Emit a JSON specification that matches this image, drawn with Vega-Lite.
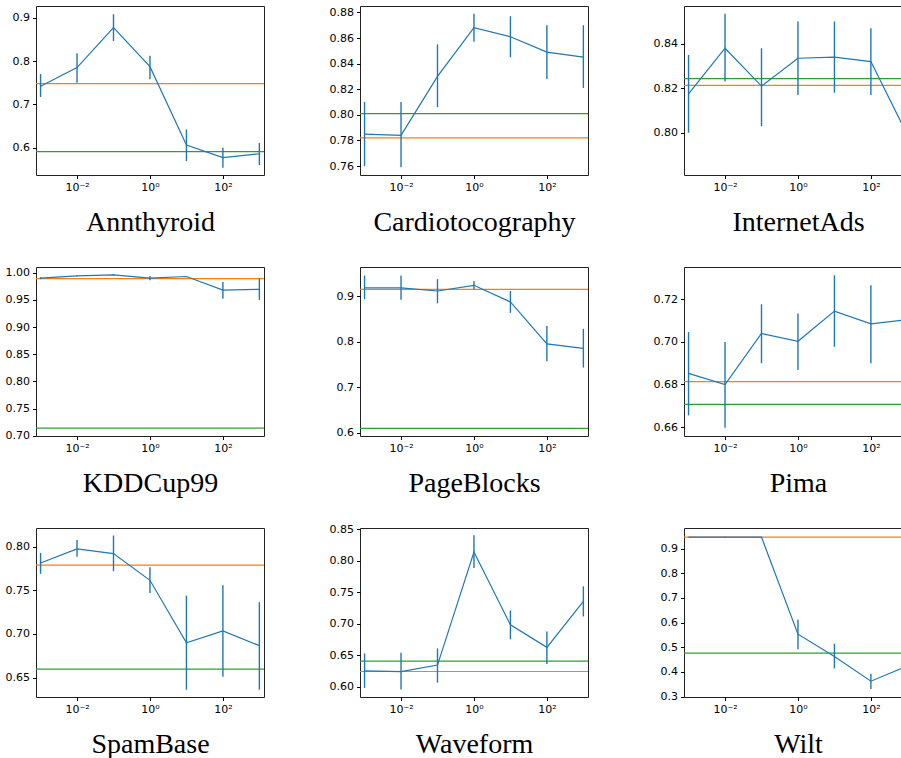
{
"$schema": "https://vega.github.io/schema/vega-lite/v6.json",
"padding": {"left": 4, "top": 5, "right": 0, "bottom": 0},
"bounds": "flush",
"columns": 3,
"spacing": {"row": 92, "column": 96},
"datasets": {
"pts": [
{"d":"Annthyroid","x":0.001,"y":0.742,"lo":0.717,"hi":0.770},
{"d":"Annthyroid","x":0.01,"y":0.785,"lo":0.750,"hi":0.818},
{"d":"Annthyroid","x":0.1,"y":0.877,"lo":0.846,"hi":0.908},
{"d":"Annthyroid","x":1,"y":0.787,"lo":0.758,"hi":0.812},
{"d":"Annthyroid","x":10,"y":0.606,"lo":0.569,"hi":0.642},
{"d":"Annthyroid","x":100,"y":0.577,"lo":0.554,"hi":0.600},
{"d":"Annthyroid","x":1000,"y":0.586,"lo":0.560,"hi":0.611},
{"d":"Cardiotocography","x":0.001,"y":0.785,"lo":0.760,"hi":0.810},
{"d":"Cardiotocography","x":0.01,"y":0.784,"lo":0.759,"hi":0.810},
{"d":"Cardiotocography","x":0.1,"y":0.830,"lo":0.806,"hi":0.855},
{"d":"Cardiotocography","x":1,"y":0.868,"lo":0.857,"hi":0.879},
{"d":"Cardiotocography","x":10,"y":0.861,"lo":0.845,"hi":0.877},
{"d":"Cardiotocography","x":100,"y":0.849,"lo":0.828,"hi":0.870},
{"d":"Cardiotocography","x":1000,"y":0.845,"lo":0.821,"hi":0.870},
{"d":"InternetAds","x":0.001,"y":0.8175,"lo":0.800,"hi":0.835},
{"d":"InternetAds","x":0.01,"y":0.838,"lo":0.823,"hi":0.8535},
{"d":"InternetAds","x":0.1,"y":0.821,"lo":0.803,"hi":0.838},
{"d":"InternetAds","x":1,"y":0.8335,"lo":0.817,"hi":0.850},
{"d":"InternetAds","x":10,"y":0.834,"lo":0.818,"hi":0.850},
{"d":"InternetAds","x":100,"y":0.832,"lo":0.817,"hi":0.847},
{"d":"InternetAds","x":1000,"y":0.799,"lo":0.784,"hi":0.814},
{"d":"KDDCup99","x":0.001,"y":0.990,"lo":0.988,"hi":0.992},
{"d":"KDDCup99","x":0.01,"y":0.994,"lo":0.993,"hi":0.995},
{"d":"KDDCup99","x":0.1,"y":0.996,"lo":0.995,"hi":0.997},
{"d":"KDDCup99","x":1,"y":0.990,"lo":0.986,"hi":0.994},
{"d":"KDDCup99","x":10,"y":0.993,"lo":0.992,"hi":0.994},
{"d":"KDDCup99","x":100,"y":0.968,"lo":0.952,"hi":0.983},
{"d":"KDDCup99","x":1000,"y":0.9695,"lo":0.950,"hi":0.989},
{"d":"PageBlocks","x":0.001,"y":0.918,"lo":0.893,"hi":0.945},
{"d":"PageBlocks","x":0.01,"y":0.918,"lo":0.892,"hi":0.945},
{"d":"PageBlocks","x":0.1,"y":0.911,"lo":0.884,"hi":0.937},
{"d":"PageBlocks","x":1,"y":0.9235,"lo":0.915,"hi":0.933},
{"d":"PageBlocks","x":10,"y":0.887,"lo":0.863,"hi":0.911},
{"d":"PageBlocks","x":100,"y":0.795,"lo":0.757,"hi":0.834},
{"d":"PageBlocks","x":1000,"y":0.785,"lo":0.743,"hi":0.828},
{"d":"Pima","x":0.001,"y":0.6852,"lo":0.6655,"hi":0.7046},
{"d":"Pima","x":0.01,"y":0.680,"lo":0.6597,"hi":0.700},
{"d":"Pima","x":0.1,"y":0.704,"lo":0.690,"hi":0.7177},
{"d":"Pima","x":1,"y":0.7003,"lo":0.6868,"hi":0.7134},
{"d":"Pima","x":10,"y":0.7145,"lo":0.6977,"hi":0.7313},
{"d":"Pima","x":100,"y":0.7085,"lo":0.690,"hi":0.7266},
{"d":"Pima","x":1000,"y":0.7105,"lo":0.692,"hi":0.729},
{"d":"SpamBase","x":0.001,"y":0.7815,"lo":0.769,"hi":0.793},
{"d":"SpamBase","x":0.01,"y":0.7977,"lo":0.7885,"hi":0.8077},
{"d":"SpamBase","x":0.1,"y":0.7923,"lo":0.772,"hi":0.813},
{"d":"SpamBase","x":1,"y":0.7616,"lo":0.747,"hi":0.7766},
{"d":"SpamBase","x":10,"y":0.690,"lo":0.636,"hi":0.744},
{"d":"SpamBase","x":100,"y":0.7035,"lo":0.6508,"hi":0.7558},
{"d":"SpamBase","x":1000,"y":0.6866,"lo":0.636,"hi":0.7365},
{"d":"Waveform","x":0.001,"y":0.6255,"lo":0.5984,"hi":0.653},
{"d":"Waveform","x":0.01,"y":0.6244,"lo":0.5957,"hi":0.6542},
{"d":"Waveform","x":0.1,"y":0.6346,"lo":0.6069,"hi":0.6611},
{"d":"Waveform","x":1,"y":0.8138,"lo":0.7887,"hi":0.8404},
{"d":"Waveform","x":10,"y":0.6984,"lo":0.6755,"hi":0.7213},
{"d":"Waveform","x":100,"y":0.6627,"lo":0.6362,"hi":0.6877},
{"d":"Waveform","x":1000,"y":0.7356,"lo":0.7117,"hi":0.7595},
{"d":"Wilt","x":0.001,"y":0.947,"lo":0.946,"hi":0.948},
{"d":"Wilt","x":0.01,"y":0.947,"lo":0.946,"hi":0.948},
{"d":"Wilt","x":0.1,"y":0.947,"lo":0.946,"hi":0.948},
{"d":"Wilt","x":1,"y":0.553,"lo":0.4922,"hi":0.6116},
{"d":"Wilt","x":10,"y":0.4626,"lo":0.414,"hi":0.514},
{"d":"Wilt","x":100,"y":0.3622,"lo":0.330,"hi":0.392},
{"d":"Wilt","x":1000,"y":0.424,"lo":0.39,"hi":0.458}
],
"base": [
{"d":"Annthyroid","orange":0.748,"green":0.591},
{"d":"Cardiotocography","orange":0.782,"green":0.801},
{"d":"InternetAds","orange":0.8213,"green":0.8243},
{"d":"KDDCup99","orange":0.989,"green":0.714},
{"d":"PageBlocks","orange":0.9147,"green":0.6096},
{"d":"Pima","orange":0.6813,"green":0.6707},
{"d":"SpamBase","orange":0.7789,"green":0.6597},
{"d":"Waveform","orange":0.6244,"green":0.641},
{"d":"Wilt","orange":0.947,"green":0.476}
]
},
"concat": [
{"width":228,"height":169,"layer":[
{"data":{"name":"base"},"transform":[{"filter":"datum.d=='Annthyroid'"}],"mark":{"type":"rule","color":"#ff7f0e","strokeWidth":1.2},"encoding":{"y":{"field":"orange","type":"quantitative","title":null}}},
{"data":{"name":"base"},"transform":[{"filter":"datum.d=='Annthyroid'"}],"mark":{"type":"rule","color":"#2ca02c","strokeWidth":1.2},"encoding":{"y":{"field":"green","type":"quantitative","title":null}}},
{"data":{"name":"pts"},"transform":[{"filter":"datum.d=='Annthyroid'"}],"mark":{"type":"rule","color":"#1f77b4","strokeWidth":1.4},"encoding":{"x":{"field":"x","type":"quantitative","title":"Annthyroid","scale":{"type":"log","domain":[0.00075,1340],"nice":false},"axis":{"values":[0.01,1,100],"labelExpr":"datum.value < 0.1 ? '10⁻²' : datum.value < 10 ? '10⁰' : '10²'"}},"y":{"field":"lo","type":"quantitative","title":null,"scale":{"domain":[0.537,0.927],"nice":false,"zero":false},"axis":{"values":[0.6,0.7,0.8,0.9],"tickCount":20,"format":".1f","labelOverlap":false}},"y2":{"field":"hi"}}},
{"data":{"name":"pts"},"transform":[{"filter":"datum.d=='Annthyroid'"}],"mark":{"type":"line","color":"#1f77b4","strokeWidth":1.2},"encoding":{"x":{"field":"x","type":"quantitative","title":"Annthyroid"},"y":{"field":"y","type":"quantitative","title":null,"axis":{"values":[0.6,0.7,0.8,0.9],"tickCount":20,"format":".1f","labelOverlap":false}}}}
]},
{"width":228,"height":169,"layer":[
{"data":{"name":"base"},"transform":[{"filter":"datum.d=='Cardiotocography'"}],"mark":{"type":"rule","color":"#ff7f0e","strokeWidth":1.2},"encoding":{"y":{"field":"orange","type":"quantitative","title":null}}},
{"data":{"name":"base"},"transform":[{"filter":"datum.d=='Cardiotocography'"}],"mark":{"type":"rule","color":"#2ca02c","strokeWidth":1.2},"encoding":{"y":{"field":"green","type":"quantitative","title":null}}},
{"data":{"name":"pts"},"transform":[{"filter":"datum.d=='Cardiotocography'"}],"mark":{"type":"rule","color":"#1f77b4","strokeWidth":1.4},"encoding":{"x":{"field":"x","type":"quantitative","title":"Cardiotocography","scale":{"type":"log","domain":[0.00075,1340],"nice":false},"axis":{"values":[0.01,1,100],"labelExpr":"datum.value < 0.1 ? '10⁻²' : datum.value < 10 ? '10⁰' : '10²'"}},"y":{"field":"lo","type":"quantitative","title":null,"scale":{"domain":[0.753,0.885],"nice":false,"zero":false},"axis":{"values":[0.76,0.78,0.80,0.82,0.84,0.86,0.88],"tickCount":20,"format":".2f","labelOverlap":false}},"y2":{"field":"hi"}}},
{"data":{"name":"pts"},"transform":[{"filter":"datum.d=='Cardiotocography'"}],"mark":{"type":"line","color":"#1f77b4","strokeWidth":1.2},"encoding":{"x":{"field":"x","type":"quantitative","title":"Cardiotocography"},"y":{"field":"y","type":"quantitative","title":null,"axis":{"values":[0.76,0.78,0.80,0.82,0.84,0.86,0.88],"tickCount":20,"format":".2f","labelOverlap":false}}}}
]},
{"width":228,"height":169,"layer":[
{"data":{"name":"base"},"transform":[{"filter":"datum.d=='InternetAds'"}],"mark":{"type":"rule","color":"#ff7f0e","strokeWidth":1.2},"encoding":{"y":{"field":"orange","type":"quantitative","title":null}}},
{"data":{"name":"base"},"transform":[{"filter":"datum.d=='InternetAds'"}],"mark":{"type":"rule","color":"#2ca02c","strokeWidth":1.2},"encoding":{"y":{"field":"green","type":"quantitative","title":null}}},
{"data":{"name":"pts"},"transform":[{"filter":"datum.d=='InternetAds'"}],"mark":{"type":"rule","color":"#1f77b4","strokeWidth":1.4},"encoding":{"x":{"field":"x","type":"quantitative","title":"InternetAds","scale":{"type":"log","domain":[0.00075,1340],"nice":false},"axis":{"values":[0.01,1,100],"labelExpr":"datum.value < 0.1 ? '10⁻²' : datum.value < 10 ? '10⁰' : '10²'"}},"y":{"field":"lo","type":"quantitative","title":null,"scale":{"domain":[0.781,0.857],"nice":false,"zero":false},"axis":{"values":[0.80,0.82,0.84],"tickCount":20,"format":".2f","labelOverlap":false}},"y2":{"field":"hi"}}},
{"data":{"name":"pts"},"transform":[{"filter":"datum.d=='InternetAds'"}],"mark":{"type":"line","color":"#1f77b4","strokeWidth":1.2},"encoding":{"x":{"field":"x","type":"quantitative","title":"InternetAds"},"y":{"field":"y","type":"quantitative","title":null,"axis":{"values":[0.80,0.82,0.84],"tickCount":20,"format":".2f","labelOverlap":false}}}}
]},
{"width":228,"height":169,"layer":[
{"data":{"name":"base"},"transform":[{"filter":"datum.d=='KDDCup99'"}],"mark":{"type":"rule","color":"#ff7f0e","strokeWidth":1.2},"encoding":{"y":{"field":"orange","type":"quantitative","title":null}}},
{"data":{"name":"base"},"transform":[{"filter":"datum.d=='KDDCup99'"}],"mark":{"type":"rule","color":"#2ca02c","strokeWidth":1.2},"encoding":{"y":{"field":"green","type":"quantitative","title":null}}},
{"data":{"name":"pts"},"transform":[{"filter":"datum.d=='KDDCup99'"}],"mark":{"type":"rule","color":"#1f77b4","strokeWidth":1.4},"encoding":{"x":{"field":"x","type":"quantitative","title":"KDDCup99","scale":{"type":"log","domain":[0.00075,1340],"nice":false},"axis":{"values":[0.01,1,100],"labelExpr":"datum.value < 0.1 ? '10⁻²' : datum.value < 10 ? '10⁰' : '10²'"}},"y":{"field":"lo","type":"quantitative","title":null,"scale":{"domain":[0.6995,1.0105],"nice":false,"zero":false},"axis":{"values":[0.70,0.75,0.80,0.85,0.90,0.95,1.00],"tickCount":20,"format":".2f","labelOverlap":false}},"y2":{"field":"hi"}}},
{"data":{"name":"pts"},"transform":[{"filter":"datum.d=='KDDCup99'"}],"mark":{"type":"line","color":"#1f77b4","strokeWidth":1.2},"encoding":{"x":{"field":"x","type":"quantitative","title":"KDDCup99"},"y":{"field":"y","type":"quantitative","title":null,"axis":{"values":[0.70,0.75,0.80,0.85,0.90,0.95,1.00],"tickCount":20,"format":".2f","labelOverlap":false}}}}
]},
{"width":228,"height":169,"layer":[
{"data":{"name":"base"},"transform":[{"filter":"datum.d=='PageBlocks'"}],"mark":{"type":"rule","color":"#ff7f0e","strokeWidth":1.2},"encoding":{"y":{"field":"orange","type":"quantitative","title":null}}},
{"data":{"name":"base"},"transform":[{"filter":"datum.d=='PageBlocks'"}],"mark":{"type":"rule","color":"#2ca02c","strokeWidth":1.2},"encoding":{"y":{"field":"green","type":"quantitative","title":null}}},
{"data":{"name":"pts"},"transform":[{"filter":"datum.d=='PageBlocks'"}],"mark":{"type":"rule","color":"#1f77b4","strokeWidth":1.4},"encoding":{"x":{"field":"x","type":"quantitative","title":"PageBlocks","scale":{"type":"log","domain":[0.00075,1340],"nice":false},"axis":{"values":[0.01,1,100],"labelExpr":"datum.value < 0.1 ? '10⁻²' : datum.value < 10 ? '10⁰' : '10²'"}},"y":{"field":"lo","type":"quantitative","title":null,"scale":{"domain":[0.5927,0.9637],"nice":false,"zero":false},"axis":{"values":[0.6,0.7,0.8,0.9],"tickCount":20,"format":".1f","labelOverlap":false}},"y2":{"field":"hi"}}},
{"data":{"name":"pts"},"transform":[{"filter":"datum.d=='PageBlocks'"}],"mark":{"type":"line","color":"#1f77b4","strokeWidth":1.2},"encoding":{"x":{"field":"x","type":"quantitative","title":"PageBlocks"},"y":{"field":"y","type":"quantitative","title":null,"axis":{"values":[0.6,0.7,0.8,0.9],"tickCount":20,"format":".1f","labelOverlap":false}}}}
]},
{"width":228,"height":169,"layer":[
{"data":{"name":"base"},"transform":[{"filter":"datum.d=='Pima'"}],"mark":{"type":"rule","color":"#ff7f0e","strokeWidth":1.2},"encoding":{"y":{"field":"orange","type":"quantitative","title":null}}},
{"data":{"name":"base"},"transform":[{"filter":"datum.d=='Pima'"}],"mark":{"type":"rule","color":"#2ca02c","strokeWidth":1.2},"encoding":{"y":{"field":"green","type":"quantitative","title":null}}},
{"data":{"name":"pts"},"transform":[{"filter":"datum.d=='Pima'"}],"mark":{"type":"rule","color":"#1f77b4","strokeWidth":1.4},"encoding":{"x":{"field":"x","type":"quantitative","title":"Pima","scale":{"type":"log","domain":[0.00075,1340],"nice":false},"axis":{"values":[0.01,1,100],"labelExpr":"datum.value < 0.1 ? '10⁻²' : datum.value < 10 ? '10⁰' : '10²'"}},"y":{"field":"lo","type":"quantitative","title":null,"scale":{"domain":[0.6558,0.7352],"nice":false,"zero":false},"axis":{"values":[0.66,0.68,0.70,0.72],"tickCount":20,"format":".2f","labelOverlap":false}},"y2":{"field":"hi"}}},
{"data":{"name":"pts"},"transform":[{"filter":"datum.d=='Pima'"}],"mark":{"type":"line","color":"#1f77b4","strokeWidth":1.2},"encoding":{"x":{"field":"x","type":"quantitative","title":"Pima"},"y":{"field":"y","type":"quantitative","title":null,"axis":{"values":[0.66,0.68,0.70,0.72],"tickCount":20,"format":".2f","labelOverlap":false}}}}
]},
{"width":228,"height":169,"layer":[
{"data":{"name":"base"},"transform":[{"filter":"datum.d=='SpamBase'"}],"mark":{"type":"rule","color":"#ff7f0e","strokeWidth":1.2},"encoding":{"y":{"field":"orange","type":"quantitative","title":null}}},
{"data":{"name":"base"},"transform":[{"filter":"datum.d=='SpamBase'"}],"mark":{"type":"rule","color":"#2ca02c","strokeWidth":1.2},"encoding":{"y":{"field":"green","type":"quantitative","title":null}}},
{"data":{"name":"pts"},"transform":[{"filter":"datum.d=='SpamBase'"}],"mark":{"type":"rule","color":"#1f77b4","strokeWidth":1.4},"encoding":{"x":{"field":"x","type":"quantitative","title":"SpamBase","scale":{"type":"log","domain":[0.00075,1340],"nice":false},"axis":{"values":[0.01,1,100],"labelExpr":"datum.value < 0.1 ? '10⁻²' : datum.value < 10 ? '10⁰' : '10²'"}},"y":{"field":"lo","type":"quantitative","title":null,"scale":{"domain":[0.6277,0.8216],"nice":false,"zero":false},"axis":{"values":[0.65,0.70,0.75,0.80],"tickCount":20,"format":".2f","labelOverlap":false}},"y2":{"field":"hi"}}},
{"data":{"name":"pts"},"transform":[{"filter":"datum.d=='SpamBase'"}],"mark":{"type":"line","color":"#1f77b4","strokeWidth":1.2},"encoding":{"x":{"field":"x","type":"quantitative","title":"SpamBase"},"y":{"field":"y","type":"quantitative","title":null,"axis":{"values":[0.65,0.70,0.75,0.80],"tickCount":20,"format":".2f","labelOverlap":false}}}}
]},
{"width":228,"height":169,"layer":[
{"data":{"name":"base"},"transform":[{"filter":"datum.d=='Waveform'"}],"mark":{"type":"rule","color":"#ff7f0e","strokeWidth":1.2},"encoding":{"y":{"field":"orange","type":"quantitative","title":null}}},
{"data":{"name":"base"},"transform":[{"filter":"datum.d=='Waveform'"}],"mark":{"type":"rule","color":"#2ca02c","strokeWidth":1.2},"encoding":{"y":{"field":"green","type":"quantitative","title":null}}},
{"data":{"name":"pts"},"transform":[{"filter":"datum.d=='Waveform'"}],"mark":{"type":"rule","color":"#1f77b4","strokeWidth":1.4},"encoding":{"x":{"field":"x","type":"quantitative","title":"Waveform","scale":{"type":"log","domain":[0.00075,1340],"nice":false},"axis":{"values":[0.01,1,100],"labelExpr":"datum.value < 0.1 ? '10⁻²' : datum.value < 10 ? '10⁰' : '10²'"}},"y":{"field":"lo","type":"quantitative","title":null,"scale":{"domain":[0.584,0.852],"nice":false,"zero":false},"axis":{"values":[0.60,0.65,0.70,0.75,0.80,0.85],"tickCount":20,"format":".2f","labelOverlap":false}},"y2":{"field":"hi"}}},
{"data":{"name":"pts"},"transform":[{"filter":"datum.d=='Waveform'"}],"mark":{"type":"line","color":"#1f77b4","strokeWidth":1.2},"encoding":{"x":{"field":"x","type":"quantitative","title":"Waveform"},"y":{"field":"y","type":"quantitative","title":null,"axis":{"values":[0.60,0.65,0.70,0.75,0.80,0.85],"tickCount":20,"format":".2f","labelOverlap":false}}}}
]},
{"width":228,"height":169,"layer":[
{"data":{"name":"base"},"transform":[{"filter":"datum.d=='Wilt'"}],"mark":{"type":"rule","color":"#ff7f0e","strokeWidth":1.2},"encoding":{"y":{"field":"orange","type":"quantitative","title":null}}},
{"data":{"name":"base"},"transform":[{"filter":"datum.d=='Wilt'"}],"mark":{"type":"rule","color":"#2ca02c","strokeWidth":1.2},"encoding":{"y":{"field":"green","type":"quantitative","title":null}}},
{"data":{"name":"pts"},"transform":[{"filter":"datum.d=='Wilt'"}],"mark":{"type":"rule","color":"#1f77b4","strokeWidth":1.4},"encoding":{"x":{"field":"x","type":"quantitative","title":"Wilt","scale":{"type":"log","domain":[0.00075,1340],"nice":false},"axis":{"values":[0.01,1,100],"labelExpr":"datum.value < 0.1 ? '10⁻²' : datum.value < 10 ? '10⁰' : '10²'"}},"y":{"field":"lo","type":"quantitative","title":null,"scale":{"domain":[0.298,0.984],"nice":false,"zero":false},"axis":{"values":[0.3,0.4,0.5,0.6,0.7,0.8,0.9],"tickCount":20,"format":".1f","labelOverlap":false}},"y2":{"field":"hi"}}},
{"data":{"name":"pts"},"transform":[{"filter":"datum.d=='Wilt'"}],"mark":{"type":"line","color":"#1f77b4","strokeWidth":1.2},"encoding":{"x":{"field":"x","type":"quantitative","title":"Wilt"},"y":{"field":"y","type":"quantitative","title":null,"axis":{"values":[0.3,0.4,0.5,0.6,0.7,0.8,0.9],"tickCount":20,"format":".1f","labelOverlap":false}}}}
]}
],
"config": {
"font": "DejaVu Sans",
"view": {"stroke": "#222222", "strokeWidth": 1},
"axis": {"grid": false, "domain": false, "labelOverlap": false, "tickColor": "#000000", "tickSize": 3.5, "tickWidth": 1, "labelFont": "DejaVu Sans", "labelFontSize": 11, "labelColor": "#000000", "labelPadding": 3, "titleFont": "Liberation Serif", "titleFontSize": 28, "titleFontWeight": "normal", "titleColor": "#000000", "titlePadding": 16}
}
}
